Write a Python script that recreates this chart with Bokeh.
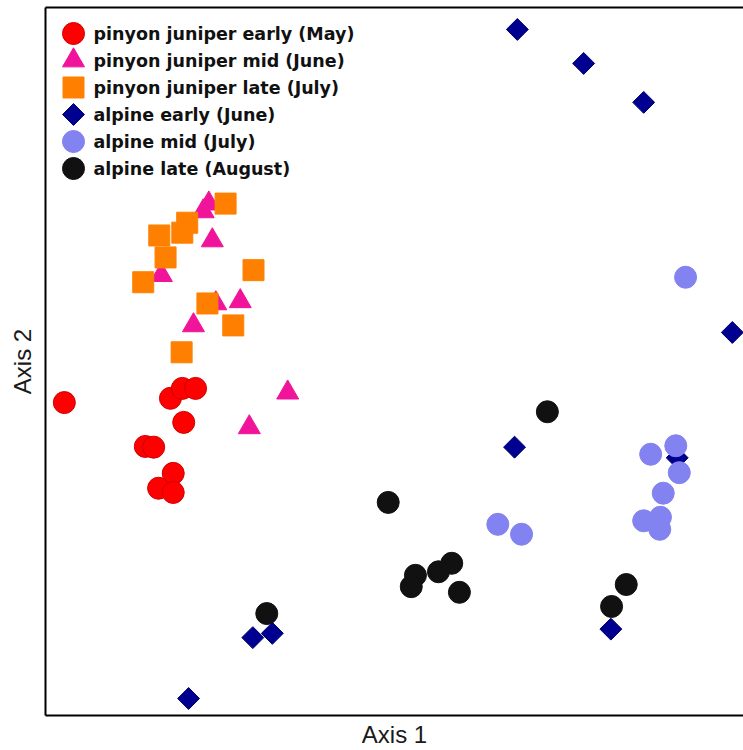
from bokeh.plotting import figure
from bokeh.models import Range1d, LinearAxis, FixedTicker, ColumnDataSource
from bokeh.core.properties import value
from bokeh.embed import file_html
from bokeh.resources import INLINE
import math

# ---- data (ordination scores, arbitrary units 0-100) ----
pj_early_x = [2.7, 17.9, 19.6, 21.5, 19.8, 14.3, 15.5, 18.3, 16.2, 18.3]
pj_early_y = [44.2, 44.8, 46.2, 46.2, 41.4, 38.0, 37.9, 34.2, 32.1, 31.5]

pj_mid_x = [23.4, 22.6, 23.9, 16.6, 24.4, 27.9, 21.2, 29.2, 34.7]
pj_mid_y = [72.3, 71.2, 67.1, 62.2, 58.2, 58.5, 55.1, 40.7, 45.6]

pj_late_x = [25.8, 20.3, 19.6, 16.3, 17.2, 14.0, 29.8, 23.2, 26.9, 19.5]
pj_late_y = [72.3, 69.6, 68.2, 67.8, 64.7, 61.2, 62.9, 58.2, 55.1, 51.3]

alp_early_x = [67.6, 77.1, 85.7, 98.4, 67.2, 90.5, 81.0, 20.5, 29.7, 32.5]
alp_early_y = [96.9, 92.1, 86.6, 54.1, 37.9, 36.4, 12.2, 2.4, 11.0, 11.6]

alp_mid_x = [91.7, 90.3, 86.7, 90.8, 88.5, 85.7, 88.1, 88.0, 64.8, 68.2]
alp_mid_y = [61.9, 38.1, 36.9, 34.3, 31.4, 27.5, 28.0, 26.3, 27.0, 25.6]

alp_late_x = [71.9, 49.1, 58.2, 56.3, 53.0, 52.4, 59.3, 83.2, 81.1, 31.7]
alp_late_y = [42.9, 30.1, 21.5, 20.3, 19.8, 18.2, 17.4, 18.5, 15.4, 14.4]

labels = [
    "pinyon juniper early (May)",
    "pinyon juniper mid (June)",
    "pinyon juniper late (July)",
    "alpine early (June)",
    "alpine mid (July)",
    "alpine late (August)",
]
axis_x_title = "Axis 1"
axis_y_title = "Axis 2"

# ---- styles ----
styles = [
    dict(marker="circle", size=22, fill="#FF0000", line="#D00000", angle=0.0),
    dict(marker="triangle", size=22, fill="#F0149A", line="#F0149A", angle=0.0),
    dict(marker="square", size=21, fill="#FF8000", line="#FF8000", angle=0.0),
    dict(marker="square", size=15.5, fill="#000090", line="#000070", angle=math.pi / 4),
    dict(marker="circle", size=22, fill="#8282F0", line="#8282F0", angle=0.0),
    dict(marker="circle", size=22, fill="#111111", line="#111111", angle=0.0),
]
series = [
    (pj_early_x, pj_early_y),
    (pj_mid_x, pj_mid_y),
    (pj_late_x, pj_late_y),
    (alp_early_x, alp_early_y),
    (alp_mid_x, alp_mid_y),
    (alp_late_x, alp_late_y),
]
draw_order = [0, 1, 2, 5, 3, 4]

p = figure(width=743, height=750, output_backend="svg", toolbar_location=None,
           x_range=Range1d(0, 100), y_range=Range1d(0, 100),
           min_border_left=45, min_border_right=0, min_border_top=7,
           min_border_bottom=35,
           background_fill_color="white", border_fill_color="white",
           outline_line_color=None)
p.grid.visible = False

# pixel-like ranges for the legend layout (offsets from frame top-left)
p.extra_x_ranges = {"lx": Range1d(0, 698)}
p.extra_y_ranges = {"ly": Range1d(708, 0)}


def style_axis(ax):
    ax.ticker = FixedTicker(ticks=[])
    ax.major_tick_out = 0
    ax.major_tick_in = 0
    ax.minor_tick_out = 0
    ax.minor_tick_in = 0
    ax.major_label_text_font_size = "0px"
    ax.axis_line_width = 2
    ax.axis_line_color = "black"
    ax.axis_label_text_font = "Liberation Sans"
    ax.axis_label_text_font_size = "24px"
    ax.axis_label_text_font_style = "normal"
    ax.axis_label_text_color = "#1a1a1a"


style_axis(p.xaxis[0])
style_axis(p.yaxis[0])
p.xaxis[0].axis_label = axis_x_title
p.xaxis[0].axis_label_standoff = 5
p.yaxis[0].axis_label = axis_y_title
p.yaxis[0].axis_label_standoff = 10

top_axis = LinearAxis()
style_axis(top_axis)
p.add_layout(top_axis, "above")

for i in draw_order:
    xs, ys = series[i]
    st = styles[i]
    src = ColumnDataSource(dict(x=xs, y=ys))
    p.scatter("x", "y", source=src, marker=st["marker"], size=st["size"],
              fill_color=st["fill"], line_color=st["line"], line_width=1,
              angle=st["angle"])

# ---- manual legend (layout constants in pixels from frame top-left) ----
LEG_MX = 28
LEG_TX = 48
LEG_Y0 = 26
LEG_DY = 27
for i, lab in enumerate(labels):
    st = styles[i]
    yy = LEG_Y0 + i * LEG_DY
    p.scatter([LEG_MX], [yy], marker=st["marker"], size=st["size"],
              fill_color=st["fill"], line_color=st["line"], line_width=1,
              angle=st["angle"], x_range_name="lx", y_range_name="ly")
    p.text([LEG_TX], [yy], text=[lab], text_font=value("DejaVu Sans"),
           text_font_style="bold", text_font_size="17.5px",
           text_baseline="middle", text_align="left", text_color="#111111",
           x_range_name="lx", y_range_name="ly")

open("out.html", "w").write(file_html(p, INLINE))
